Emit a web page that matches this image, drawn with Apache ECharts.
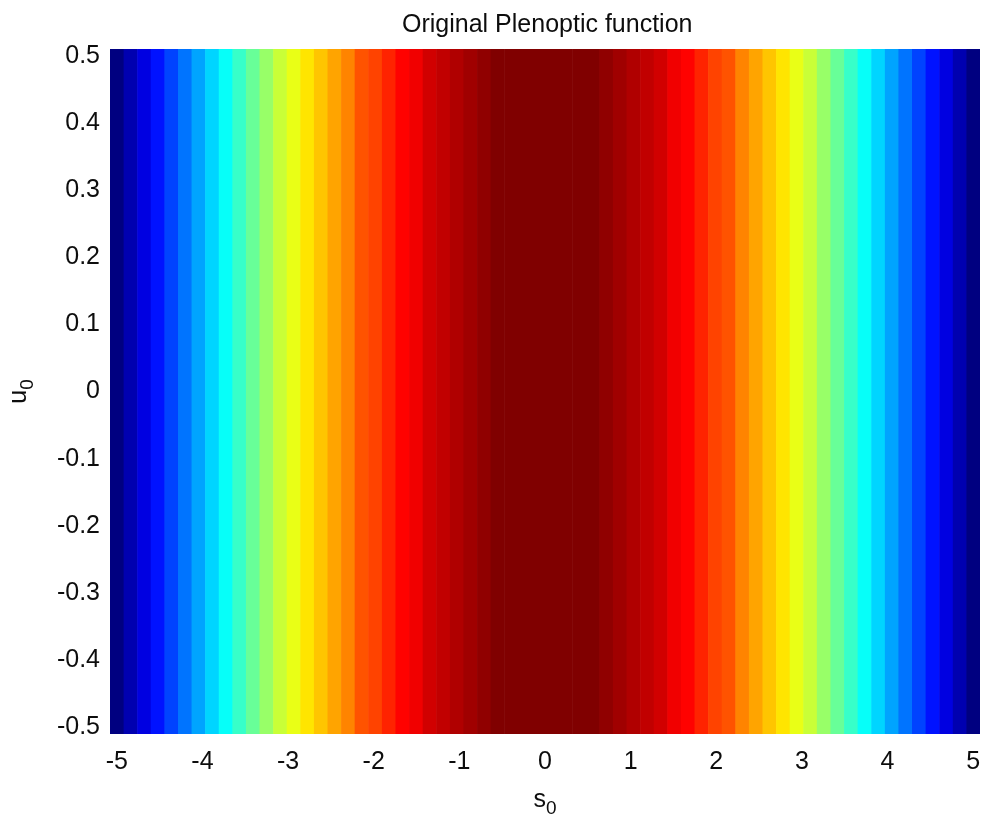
<!DOCTYPE html>
<html>
<head>
<meta charset="utf-8">
<script src="https://cdn.jsdelivr.net/npm/echarts@6/dist/echarts.min.js"></script>
<style>
  html, body { margin: 0; padding: 0; background: #fff; }
  #chart { width: 983px; height: 818px; }
</style>
</head>
<body>
<div id="chart"></div>
<script>
// Sample positions along s0 (one colour column per sample)
const s0Samples = [
  -5.000, -4.841, -4.683, -4.524, -4.365, -4.206, -4.048, -3.889,
  -3.730, -3.571, -3.413, -3.254, -3.095, -2.937, -2.778, -2.619,
  -2.460, -2.302, -2.143, -1.984, -1.825, -1.667, -1.508, -1.349,
  -1.190, -1.032, -0.873, -0.714, -0.556, -0.397, -0.238, -0.079,
   0.079,  0.238,  0.397,  0.556,  0.714,  0.873,  1.032,  1.190,
   1.349,  1.508,  1.667,  1.825,  1.984,  2.143,  2.302,  2.460,
   2.619,  2.778,  2.937,  3.095,  3.254,  3.413,  3.571,  3.730,
   3.889,  4.048,  4.206,  4.365,  4.524,  4.683,  4.841,  5.000
];
// Plenoptic intensity at each s0 sample (constant along u0)
const intensity = [
  0.000, 0.050, 0.100, 0.149, 0.198, 0.247, 0.295, 0.342,
  0.388, 0.434, 0.478, 0.521, 0.563, 0.604, 0.643, 0.680,
  0.716, 0.750, 0.782, 0.812, 0.840, 0.866, 0.890, 0.912,
  0.931, 0.948, 0.963, 0.975, 0.985, 0.992, 0.997, 1.000,
  1.000, 0.997, 0.992, 0.985, 0.975, 0.963, 0.948, 0.931,
  0.912, 0.890, 0.866, 0.840, 0.812, 0.782, 0.750, 0.716,
  0.680, 0.643, 0.604, 0.563, 0.521, 0.478, 0.434, 0.388,
  0.342, 0.295, 0.247, 0.198, 0.149, 0.100, 0.050, 0.000
];
// Tick labels
const sTicks = [-5, -4, -3, -2, -1, 0, 1, 2, 3, 4, 5];
const uTicks = [-0.5, -0.4, -0.3, -0.2, -0.1, 0, 0.1, 0.2, 0.3, 0.4, 0.5];

// Image extent: half a sample beyond the outer samples
const halfStepS = (s0Samples[1] - s0Samples[0]) / 2;
const sMin = s0Samples[0] - halfStepS;
const sMax = s0Samples[s0Samples.length - 1] + halfStepS;
const uMin = -0.51, uMax = 0.51;

// Jet colour map anchors, evenly spaced from 0 to 1 (sampled into 64 levels)
const jet = ['#000080', '#0000ff', '#0080ff', '#00ffff', '#80ff80',
             '#ffff00', '#ff8000', '#ff0000', '#800000'];

const data = s0Samples.map((s, i) => [s, intensity[i]]);

const font = 'Liberation Sans, Arial, sans-serif';
const ink = '#0d0d0d';
const chart = echarts.init(document.getElementById('chart'), null, { renderer: 'canvas' });

chart.setOption({
  backgroundColor: '#ffffff',
  animation: false,
  title: {
    text: 'Original Plenoptic function',
    left: 397,
    top: 8,
    textStyle: { fontFamily: font, fontSize: 25, fontWeight: 'normal', color: ink }
  },
  grid: { left: 110, right: 3, top: 49, bottom: 84, outerBoundsMode: 'none', containLabel: false },
  visualMap: {
    show: false,
    type: 'piecewise',
    dimension: 1,
    seriesIndex: 0,
    min: 0,
    max: 1,
    splitNumber: 64,
    precision: 6,
    inRange: { color: jet }
  },
  xAxis: {
    type: 'value',
    min: sMin,
    max: sMax,
    axisLine: { show: false },
    axisTick: { show: false },
    splitLine: { show: false },
    axisLabel: {
      customValues: sTicks,
      formatter: v => String(Math.round(v)),
      fontFamily: font, fontSize: 25, color: ink, margin: 16
    },
    name: '{s|s}{sub|0}',
    nameLocation: 'middle',
    nameGap: 49,
    nameTextStyle: {
      rich: {
        s: { fontFamily: font, fontSize: 25, color: ink },
        sub: { fontFamily: font, fontSize: 19, color: ink, padding: [16, 0, 0, 0] }
      }
    }
  },
  yAxis: {
    type: 'value',
    min: uMin,
    max: uMax,
    axisLine: { show: false },
    axisTick: { show: false },
    splitLine: { show: false },
    axisLabel: {
      customValues: uTicks,
      formatter: v => String(Math.round(v * 10) / 10),
      fontFamily: font, fontSize: 25, color: ink, margin: 10
    },
    name: '{u|u}{sub|0}',
    nameLocation: 'middle',
    nameGap: 73,
    nameRotate: 90,
    nameTextStyle: {
      rich: {
        u: { fontFamily: font, fontSize: 25, color: ink },
        sub: { fontFamily: font, fontSize: 19, color: ink, padding: [16, 0, 0, 0] }
      }
    }
  },
  series: [{
    type: 'custom',
    clip: true,
    data: data,
    encode: { x: 0 },
    renderItem: function (params, api) {
      const i = params.dataIndex;
      const s = api.value(0);
      const left = i > 0 ? (s0Samples[i - 1] + s) / 2 : sMin;
      const right = i < s0Samples.length - 1 ? (s0Samples[i + 1] + s) / 2 : sMax;
      const p0 = api.coord([left, uMax]);
      const p1 = api.coord([right, uMin]);
      return {
        type: 'rect',
        shape: { x: p0[0], y: p0[1], width: p1[0] - p0[0] + 0.6, height: p1[1] - p0[1] },
        style: { fill: api.visual('color') }
      };
    }
  }]
});
</script>
</body>
</html>
